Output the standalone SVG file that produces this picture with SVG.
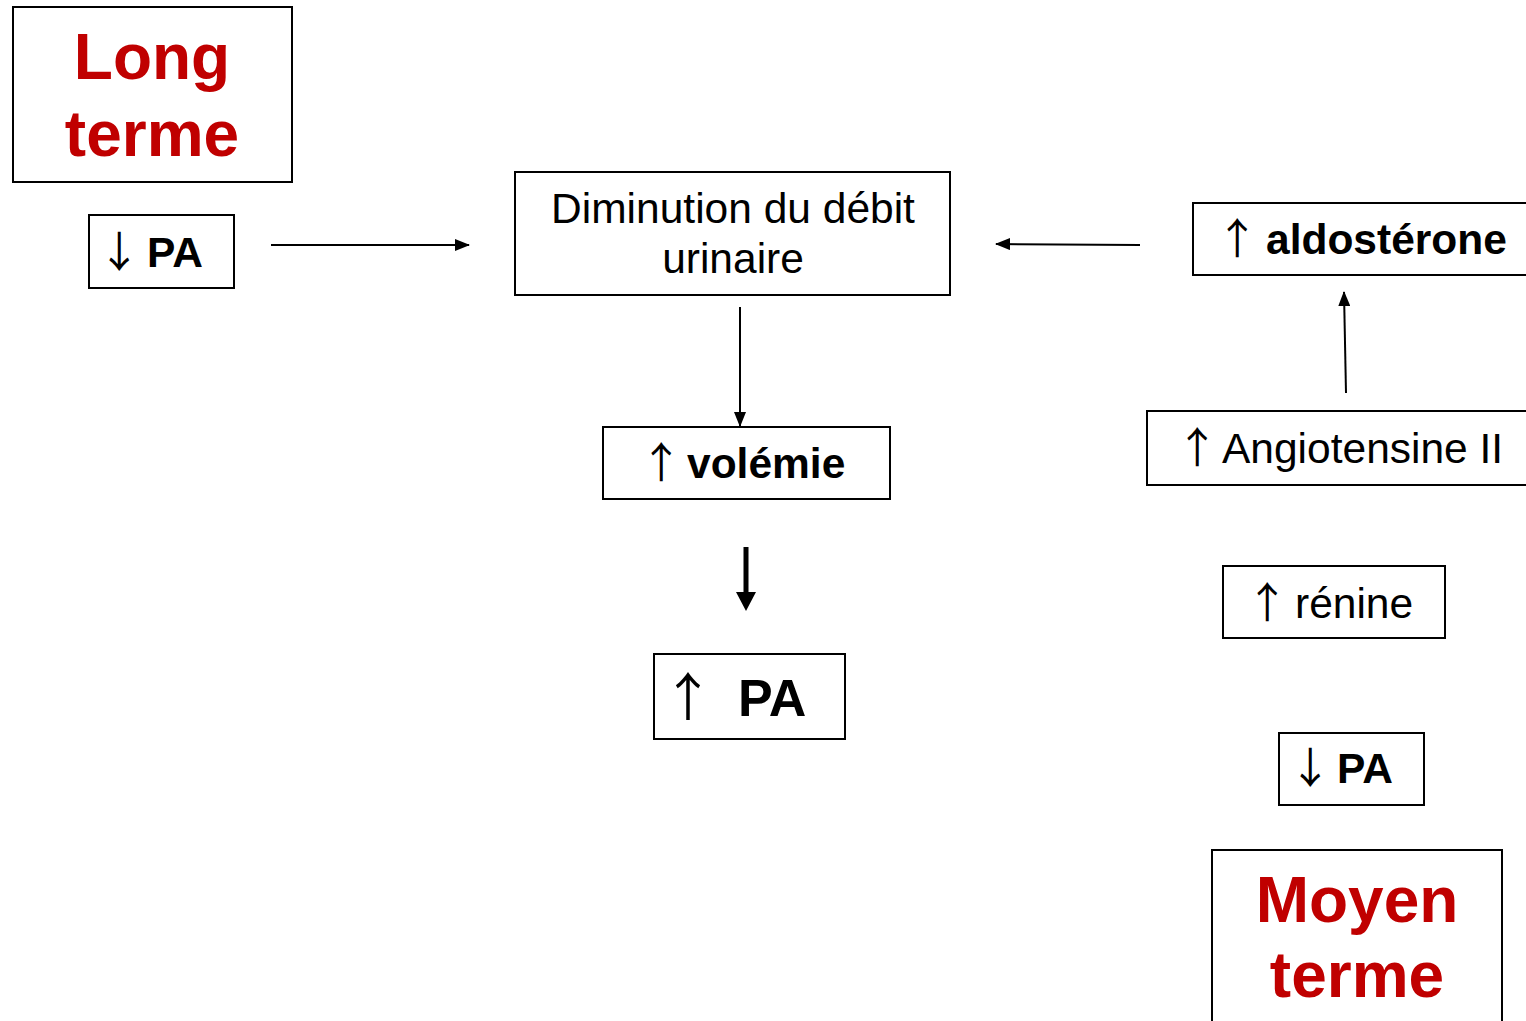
<svg xmlns="http://www.w3.org/2000/svg" width="1526" height="1021" viewBox="0 0 1526 1021">
<style>
.box{fill:#fff;stroke:#000;stroke-width:2}
text{font-family:"Liberation Sans",Arial,sans-serif;fill:#000}
.b{font-weight:bold}
.red{fill:#C00000;font-weight:bold;font-size:64px}
.ar{font-weight:normal;font-family:"Noto Sans CJK SC","Liberation Sans",sans-serif}
.c{stroke:#000;stroke-width:2;fill:none}
</style>
<defs>
<marker id="ah" markerWidth="15" markerHeight="12" refX="14" refY="6" orient="auto" markerUnits="userSpaceOnUse" viewBox="0 0 15 12">
<path d="M0,0 L15,6 L0,12 Z" fill="#000"/>
</marker>
</defs>
<g id="long-terme">
<rect class="box" x="13" y="7" width="279" height="175"/>
<text class="red" x="152" y="79" text-anchor="middle">Long</text>
<text class="red" x="152" y="156" text-anchor="middle">terme</text>
</g>
<g id="pa-left">
<rect class="box" x="89" y="215" width="145" height="73"/>
<text y="267" font-size="42.5" class="b"><tspan class="ar" x="98">↓</tspan><tspan x="147">PA</tspan></text>
</g>
<g id="diminution">
<rect class="box" x="515" y="172" width="435" height="123"/>
<text x="733" y="223" font-size="42.5" text-anchor="middle">Diminution du débit</text>
<text x="733" y="273" font-size="42.5" text-anchor="middle">urinaire</text>
</g>
<g id="volemie">
<rect class="box" x="603" y="427" width="287" height="72"/>
<text y="478" font-size="42.5" class="b"><tspan class="ar" x="640">↑</tspan><tspan x="687">volémie</tspan></text>
</g>
<g id="pa-up">
<rect class="box" x="654" y="654" width="191" height="85"/>
<text y="716" font-size="52" class="b"><tspan class="ar" x="662">↑</tspan><tspan x="738">PA</tspan></text>
</g>
<g id="aldosterone">
<rect class="box" x="1193" y="203" width="340" height="72"/>
<text y="254" font-size="42.5" class="b"><tspan class="ar" x="1216">↑</tspan><tspan x="1266">aldostérone</tspan></text>
</g>
<g id="angiotensine">
<rect class="box" x="1147" y="411" width="386" height="74"/>
<text y="463" font-size="42.5"><tspan class="ar" x="1176">↑</tspan><tspan x="1222">Angiotensine II</tspan></text>
</g>
<g id="renine">
<rect class="box" x="1223" y="566" width="222" height="72"/>
<text y="618" font-size="42.5"><tspan class="ar" x="1246">↑</tspan><tspan x="1295">rénine</tspan></text>
</g>
<g id="pa-right">
<rect class="box" x="1279" y="733" width="145" height="72"/>
<text y="783" font-size="42.5" class="b"><tspan class="ar" x="1289">↓</tspan><tspan x="1337">PA</tspan></text>
</g>
<g id="moyen-terme">
<rect class="box" x="1212" y="850" width="290" height="185"/>
<text class="red" x="1357" y="922" text-anchor="middle">Moyen</text>
<text class="red" x="1357" y="997" text-anchor="middle">terme</text>
</g>
<g id="connectors">
<line class="c" x1="271" y1="245" x2="469" y2="245" marker-end="url(#ah)"/>
<line class="c" x1="1140" y1="245" x2="996" y2="244" marker-end="url(#ah)"/>
<line class="c" x1="740" y1="307" x2="740" y2="426" marker-end="url(#ah)"/>
<line class="c" x1="1346" y1="393" x2="1344" y2="292" marker-end="url(#ah)"/>
<path d="M743.5,547 H748.5 V592 H756 L746,611 L736,592 H743.5 Z" fill="#000"/>
</g>
</svg>
